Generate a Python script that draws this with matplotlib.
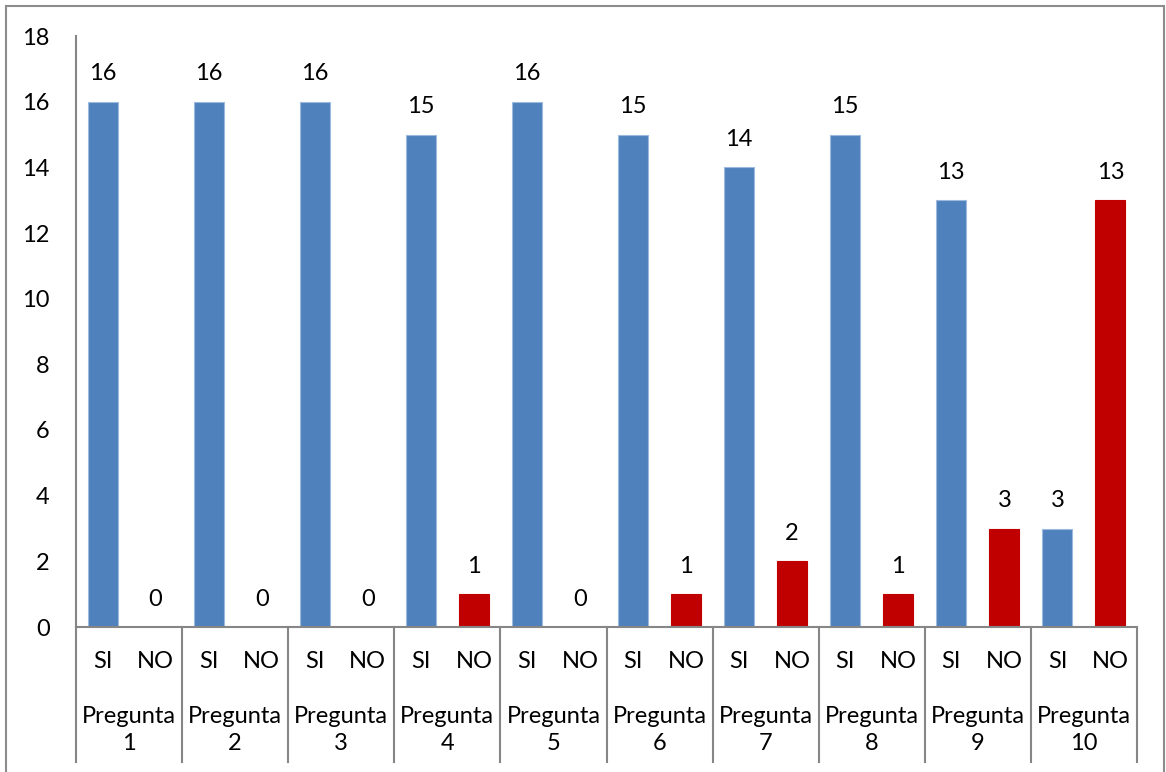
import matplotlib.pyplot as plt
from matplotlib.patches import Rectangle

preguntas = ["Pregunta\n1", "Pregunta\n2", "Pregunta\n3", "Pregunta\n4", "Pregunta\n5",
             "Pregunta\n6", "Pregunta\n7", "Pregunta\n8", "Pregunta\n9", "Pregunta\n10"]
respuestas = ["SI", "NO"]
si = [16, 16, 16, 15, 16, 15, 14, 15, 13, 3]
no = [0, 0, 0, 1, 0, 1, 2, 1, 3, 13]

plt.rcParams['font.family'] = ['Lato', 'DejaVu Sans']
fs = 17
fig = plt.figure(figsize=(11.66, 7.72), dpi=100)
ax = fig.add_axes([76/1166, 1-627/772, (1137-76)/1166, (627-36)/772])

gris = "#868686"
n = len(preguntas)
xs_si = [i + 0.25 for i in range(n)]
xs_no = [i + 0.75 for i in range(n)]
w = 0.283
ax.bar(xs_si, si, width=w, color="#4F81BD", edgecolor="#9DB9DE", linewidth=0.8)
ax.bar(xs_no, no, width=w, color="#C00000", edgecolor="#C00000", linewidth=0.8)
for x, v in zip(xs_si + xs_no, si + no):
    ax.annotate(str(v), (x, v), xytext=(0, 20), textcoords="offset points",
                ha="center", va="center", fontsize=fs)

ax.set_xlim(0, n)
ax.set_ylim(0, 18)
ax.set_yticks(range(0, 19, 2))
ax.tick_params(axis="y", length=0, pad=19, labelsize=fs)
ax.set_xticks([])
for s in ["top", "right"]:
    ax.spines[s].set_visible(False)
ax.spines["left"].set_color(gris)
ax.spines["bottom"].set_color(gris)
ax.spines["left"].set_linewidth(1.5)
ax.spines["bottom"].set_linewidth(1.5)

# eje de categorias en dos niveles
for i in range(n + 1):
    ax.plot([i, i], [0, -135/591*18], color=gris, lw=1.5, clip_on=False)
for i in range(n):
    for j, r in enumerate(respuestas):
        ax.text(i + 0.25 + 0.5*j, -35/591*18, r, ha="center", va="center", fontsize=fs)
    ax.text(i + 0.5, -103/591*18, preguntas[i], ha="center", va="center", fontsize=fs,
            linespacing=1.38)

fig.patches.append(Rectangle((6/1166, -0.05), 1158/1166, 1.05 - 6/772, transform=fig.transFigure,
                             fill=False, edgecolor="#8C8C8C", lw=1.5))

fig.savefig("out.png", dpi=100)
